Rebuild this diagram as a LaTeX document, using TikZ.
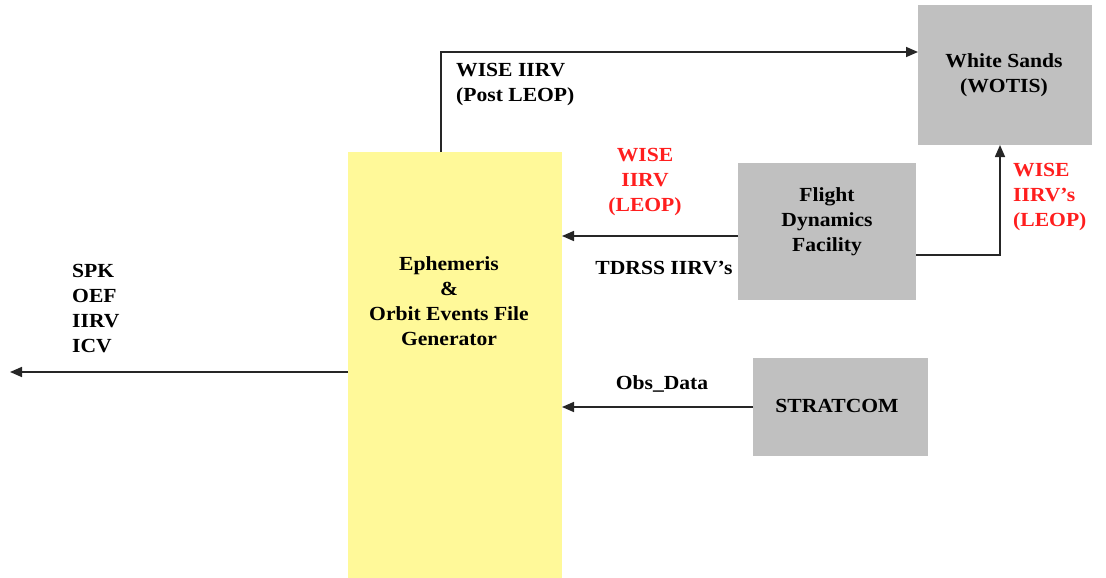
\documentclass[tikz,border=0pt]{standalone}
\usepackage{fontspec}
\setmainfont{Liberation Serif}[FakeStretch=1.08]
\usetikzlibrary{arrows.meta}
\definecolor{boxgray}{RGB}{192,192,192}
\definecolor{boxyellow}{RGB}{255,249,153}
\definecolor{lblred}{RGB}{255,30,30}
\begin{document}
\begin{tikzpicture}[x=1pt,y=-1pt,
  box/.style={draw=none, inner sep=0pt, outer sep=0pt, anchor=north west},
  txt/.style={font=\fontsize{20}{25}\selectfont\bfseries, align=center, inner sep=0pt},
  redtxt/.style={txt, text=lblred},
  conn/.style={line width=1.6pt, draw=black!85, -{Triangle[length=12pt,width=10pt]}}]
\useasboundingbox (0,0) rectangle (1106,578);
% boxes
\node[box, fill=boxyellow, minimum width=214pt, minimum height=426pt] (gen) at (348,152) {};
\node[box, fill=boxgray, minimum width=174pt, minimum height=140pt] (ws) at (918,5) {};
\node[box, fill=boxgray, minimum width=178pt, minimum height=137pt] (fdf) at (738,163) {};
\node[box, fill=boxgray, minimum width=175pt, minimum height=98pt] (strat) at (753,358) {};
% box texts
\node[txt] (gentxt) at (449,301) {Ephemeris\\\&\\Orbit Events File\\Generator};
\node[txt] (wstxt) at (1004,75) {White Sands\\(WOTIS)};
\node[txt] (fdftxt) at (827,222) {Flight\\Dynamics\\Facility};
\node[txt] (strattxt) at (837,406) {STRATCOM};
% connectors
\coordinate (c1) at (441,52);
\coordinate (c2) at (0,236);
\coordinate (c3) at (1000,255);
\coordinate (c4) at (0,372);
\coordinate (c5) at (10,372);
\draw[conn] (gen.north west -| c1) |- (ws.west |- c1);
\draw[conn] (fdf.west |- c2) -- (gen.east |- c2);
\draw[conn] (fdf.east |- c3) -| (ws.south -| c3);
\draw[conn] (strat.west) -- (gen.east |- strat.west);
\draw[conn] (gen.west |- c4) -- (c5);
% labels
\node[txt, align=left, anchor=west] (lpost) at (456,85) {WISE IIRV\\(Post LEOP)};
\node[redtxt] (lleop) at (645,182) {WISE\\IIRV\\(LEOP)};
\node[txt] (ltdrss) at (664,268) {TDRSS IIRV’s};
\node[redtxt, align=left, anchor=west] (lleop2) at (1013,197) {WISE\\IIRV’s\\(LEOP)};
\node[txt] (lobs) at (662,384) {Obs\_Data};
\node[txt, align=left, anchor=west] (lout) at (72,309) {SPK\\OEF\\IIRV\\ICV};
\end{tikzpicture}
\end{document}
